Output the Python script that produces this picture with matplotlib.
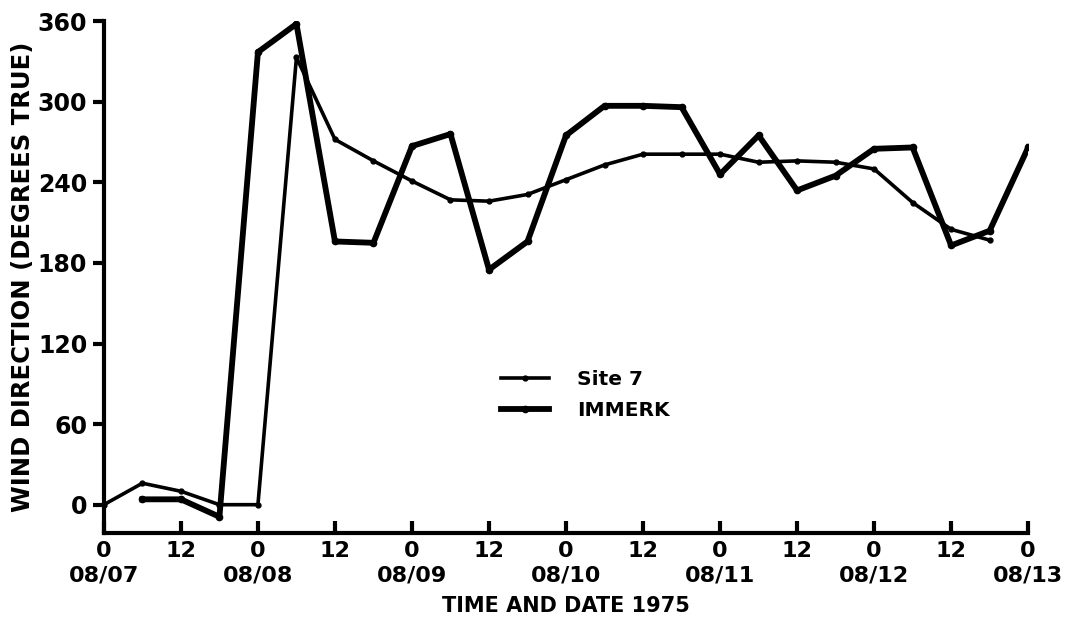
"""
Wind direction at Site 7 and IMMERK, 7-13 August 1975.
"""

import matplotlib
matplotlib.use("Agg")
import matplotlib.pyplot as plt

# ---------------------------------------------------------------------------
# Data (hours since 08/07 00:00, degrees true)
# ---------------------------------------------------------------------------

site7_hours = [0, 6, 12, 18, 24, 30, 36, 42, 48, 54, 60, 66,
               72, 78, 84, 90, 96, 102, 108, 114, 120, 126, 132, 138]
site7_deg = [0, 16, 10, 0, 0, 333, 272, 256, 241, 227, 226, 231,
             242, 253, 261, 261, 261, 255, 256, 255, 250, 225, 205, 197]

immerk_hours = [6, 12, 18, 24, 30, 36, 42, 48, 54, 60, 66, 72,
                78, 84, 90, 96, 102, 108, 114, 120, 126, 132, 138, 144]
immerk_deg = [4, 4, -9, 337, 358, 196, 195, 267, 276, 175, 196, 275,
              297, 297, 296, 246, 275, 234, 245, 265, 266, 193, 204, 266]

x_ticks = [0, 12, 24, 36, 48, 60, 72, 84, 96, 108, 120, 132, 144]
x_labels = ["0\n08/07", "12", "0\n08/08", "12", "0\n08/09", "12", "0\n08/10",
            "12", "0\n08/11", "12", "0\n08/12", "12", "0\n08/13"]
y_ticks = [0, 60, 120, 180, 240, 300, 360]

# ---------------------------------------------------------------------------
# Plot
# ---------------------------------------------------------------------------

plt.rcParams["font.family"] = ["DejaVu Sans"]

fig = plt.figure(figsize=(10.71, 6.24), dpi=100)
ax = fig.add_axes([0.097, 0.146, 0.863, 0.82])

ax.plot(site7_hours, site7_deg, color="black", linewidth=2.6,
        marker="o", markersize=3.5, label="Site 7")
ax.plot(immerk_hours, immerk_deg, color="black", linewidth=4.2,
        marker="o", markersize=4.5, label="IMMERK")

ax.set_xlim(0, 144)
ax.set_ylim(-21, 360)

ax.spines["top"].set_visible(False)
ax.spines["right"].set_visible(False)
ax.spines["left"].set_linewidth(3)
ax.spines["bottom"].set_linewidth(3)

ax.set_xticks(x_ticks)
ax.set_xticklabels(x_labels, fontsize=16, fontweight="bold", linespacing=1.25)
ax.set_yticks(y_ticks)
ax.set_yticklabels([str(v) for v in y_ticks], fontsize=17, fontweight="bold")
ax.tick_params(axis="x", direction="in", length=9, width=3, pad=6)
ax.tick_params(axis="y", direction="out", length=8, width=3, pad=4)

ax.set_ylabel("WIND DIRECTION (DEGREES TRUE)", fontsize=17.5,
              fontweight="bold", labelpad=2)
ax.set_xlabel("TIME AND DATE 1975", fontsize=15, fontweight="bold",
              labelpad=8)

leg = ax.legend(loc="center left", bbox_to_anchor=(0.41, 0.27),
                frameon=False, fontsize=14.5, handlelength=2.4,
                handletextpad=1.4, labelspacing=0.6)
for txt in leg.get_texts():
    txt.set_fontweight("bold")

fig.savefig("out.png", dpi=100)
